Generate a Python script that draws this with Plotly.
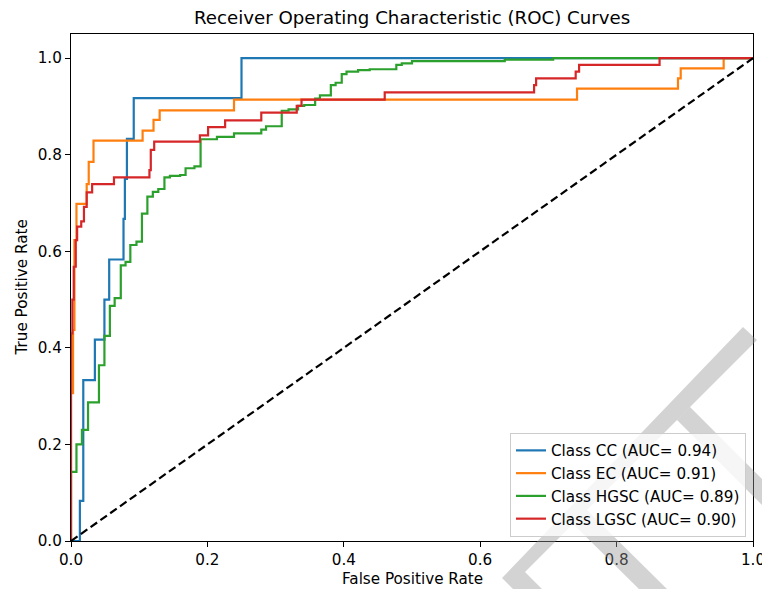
import plotly.graph_objects as go

# ---------------- data (step-curve corner points) ----------------
class_names = ["CC", "EC", "HGSC", "LGSC"]
auc_values = [0.94, 0.91, 0.89, 0.90]

fpr_cc = [0, 0.013, 0.018, 0.035, 0.049, 0.056, 0.077, 0.079, 0.082, 0.092, 0.250, 1.0]
tpr_cc = [0, 0.083, 0.333, 0.417, 0.500, 0.583, 0.667, 0.750, 0.833, 0.917, 1.000, 1.0]

fpr_ec = [0, 0, 0.003, 0.005, 0.008, 0.023, 0.026, 0.033, 0.105, 0.121, 0.130, 0.239,
          0.742, 0.890, 0.894, 0.957, 1.0]
tpr_ec = [0, 0.306, 0.437, 0.623, 0.698, 0.739, 0.785, 0.829, 0.850, 0.872, 0.892, 0.914,
          0.937, 0.958, 0.979, 1.000, 1.0]

fpr_hgsc = [0, 0, 0.008, 0.016, 0.025, 0.041, 0.049, 0.057, 0.064, 0.073, 0.080, 0.087,
            0.096, 0.104, 0.112, 0.120, 0.128, 0.137, 0.145, 0.160, 0.168, 0.181, 0.190,
            0.214, 0.239, 0.279, 0.286, 0.309, 0.319, 0.333, 0.342, 0.358, 0.365, 0.381,
            0.388, 0.397, 0.404, 0.421, 0.438, 0.477, 0.485, 0.500, 0.636, 0.707, 1.0]
tpr_hgsc = [0, 0.143, 0.200, 0.230, 0.287, 0.364, 0.425, 0.487, 0.503, 0.571, 0.578, 0.613,
            0.620, 0.678, 0.713, 0.723, 0.729, 0.753, 0.756, 0.758, 0.772, 0.776, 0.832,
            0.837, 0.844, 0.852, 0.859, 0.891, 0.894, 0.901, 0.903, 0.916, 0.923, 0.944,
            0.949, 0.967, 0.972, 0.975, 0.977, 0.986, 0.989, 0.994, 0.997, 1.000, 1.0]

fpr_lgsc = [0, 0, 0.002, 0.004, 0.007, 0.009, 0.015, 0.019, 0.023, 0.031, 0.063, 0.115,
            0.117, 0.122, 0.189, 0.201, 0.226, 0.279, 0.331, 0.338, 0.460, 0.679, 0.682,
            0.740, 0.745, 0.863, 1.0]
tpr_lgsc = [0, 0.430, 0.500, 0.568, 0.623, 0.651, 0.662, 0.692, 0.722, 0.739, 0.753, 0.768,
            0.810, 0.827, 0.840, 0.857, 0.871, 0.887, 0.901, 0.914, 0.929, 0.944, 0.958,
            0.972, 0.986, 1.000, 1.0]

chance_x = [0, 1]
chance_y = [0, 1]

x_ticks = [0.0, 0.2, 0.4, 0.6, 0.8, 1.0]
y_ticks = [0.0, 0.2, 0.4, 0.6, 0.8, 1.0]

colors = ["#1f77b4", "#ff7f0e", "#2ca02c", "#d62728"]
curves = [(fpr_cc, tpr_cc), (fpr_ec, tpr_ec), (fpr_hgsc, tpr_hgsc), (fpr_lgsc, tpr_lgsc)]

# ---------------- figure ----------------
W, H = 762, 589
L, R, T, B = 71, 9, 34, 48
FONT = "DejaVu Sans"
FS = 15.2

fig = go.Figure()
for name, auc, (fx, ty), col in zip(class_names, auc_values, curves, colors):
    fig.add_trace(go.Scatter(
        x=fx, y=ty, mode="lines", line=dict(color=col, width=2.2, shape="hv"),
        name=f"Class {name} (AUC= {auc:.2f})"))

fig.add_trace(go.Scatter(x=chance_x, y=chance_y, mode="lines", showlegend=False,
                         line=dict(color="black", width=2.2, dash="8px,4px")))

axis_common = dict(showline=True, mirror=True, linecolor="black", linewidth=1.2,
                   ticks="outside", ticklen=5, tickwidth=1.2, tickcolor="black",
                   showgrid=False, zeroline=False, tickformat=".1f",
                   ticklabeloverflow="allow",
                   tickfont=dict(family=FONT, size=FS, color="black"))

fig.update_xaxes(range=[0, 1], tickvals=x_ticks, **axis_common)
fig.update_yaxes(range=[0, 1.05], tickvals=y_ticks, **axis_common)

pw = W - L - R
ph = H - T - B


def px2paper(px, py):
    return (px - L) / pw, (H - B - py) / ph


def poly(points):
    pts = [px2paper(x, y) for x, y in points]
    return "M " + " L ".join(f"{x:.4f},{y:.4f}" for x, y in pts) + " Z"


# light gray watermark strokes (decoration)
watermark = [
    [(743, 327), (757, 340), (525, 572), (542, 589), (513, 589), (502, 578)],
    [(690, 407), (775, 492), (775, 518), (677, 420)],
    [(587, 510), (667, 589), (639, 589), (573, 524)],
]
shapes = [dict(type="path", xref="paper", yref="paper", path=poly(p),
               fillcolor="rgb(150,150,150)", opacity=0.42, line=dict(width=0),
               layer="above") for p in watermark]

annotations = [
    dict(text="Receiver Operating Characteristic (ROC) Curves", xref="paper", yref="paper",
         x=0.5, y=px2paper(0, 17)[1], showarrow=False, xanchor="center", yanchor="middle",
         font=dict(family=FONT, size=18.2, color="black")),
    dict(text="False Positive Rate", xref="paper", yref="paper",
         x=0.5, y=px2paper(0, 579)[1], showarrow=False, xanchor="center", yanchor="middle",
         font=dict(family=FONT, size=FS, color="black")),
    dict(text="True Positive Rate", xref="paper", yref="paper",
         x=px2paper(21, 0)[0], y=0.5, showarrow=False, xanchor="center", yanchor="middle",
         textangle=-90, font=dict(family=FONT, size=FS, color="black")),
]

fig.update_layout(
    width=W, height=H,
    margin=dict(l=L, r=R, t=T, b=B, autoexpand=False),
    paper_bgcolor="white", plot_bgcolor="white",
    font=dict(family=FONT, size=FS, color="black"),
    showlegend=True,
    legend=dict(x=px2paper(746, 0)[0], y=px2paper(0, 537)[1], xanchor="right", yanchor="bottom",
                bgcolor="rgba(255,255,255,0.8)", bordercolor="#cccccc", borderwidth=1,
                font=dict(family=FONT, size=FS, color="black")),
    shapes=shapes,
    annotations=annotations,
)

fig.write_html("out.html", config={"displayModeBar": False},
               post_script="document.body.style.margin='0';document.body.style.padding='0';"
                           "document.body.style.overflow='hidden';")
